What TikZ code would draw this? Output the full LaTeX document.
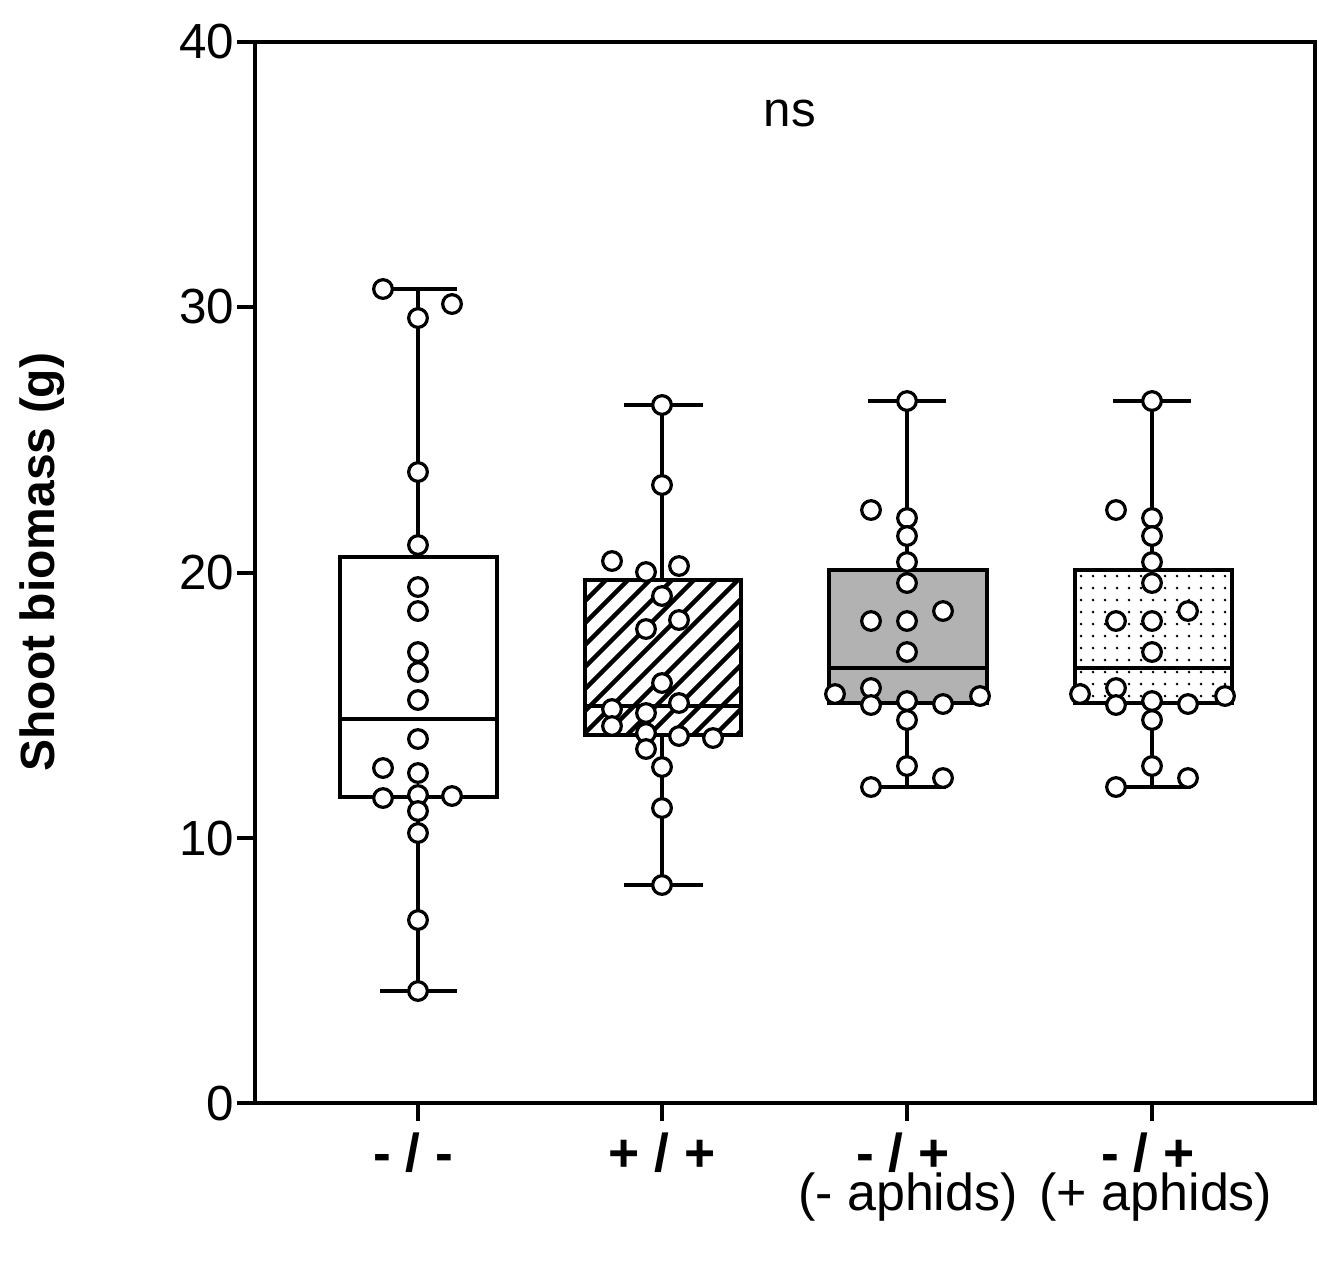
\documentclass[tikz,border=0pt]{standalone}
\usepackage{fontspec}
\setmainfont{Liberation Sans}
\begin{document}
\begin{tikzpicture}[x=0.75pt,y=-0.75pt,
  ln/.style={line width=2.9pt},
  pt/.style={circle,draw,line width=2.4pt,fill=white,minimum size=14pt,inner sep=0pt},
  lab/.style={font=\fontsize{37}{40}\selectfont},
  xlab/.style={font=\fontsize{39}{42}\selectfont,inner sep=0pt},
  blab/.style={font=\fontsize{40}{42}\selectfont\bfseries,inner sep=0pt}]
\useasboundingbox (0,0) rectangle (1319,1265);
% axes frame
\draw[ln] (255,42) rectangle (1315,1103);
\foreach \v/\y in {0/1103,10/838,20/573,30/307,40/42}{
  \draw[ln] (237,\y) -- (255,\y);
  \node[lab,anchor=east,inner sep=1pt] (y\v) at (236,\y) {\v};
}
\foreach \x in {418,662,907,1152} \draw[ln] (\x,1103) -- (\x,1121);
\node[blab] (g1) at (413,1153) {- / -};
\node[blab] (g2) at (662,1153) {+ / +};
\node[blab] (g3) at (903,1153) {- / +};
\node[blab] (g4) at (1148,1153) {- / +};
\node[xlab] (a3) at (908,1197) {(- aphids)};
\node[xlab] (a4) at (1156,1197) {(+ aphids)};
\node[font=\fontsize{36}{40}\selectfont\bfseries,rotate=90] (ylab) at (42,562) {Shoot biomass (g)};
\node[lab] (ns) at (790,113) {ns};
% group 1
\draw[ln] (418,289) -- (418,991);
\draw[ln] (380,289) -- (457,289);
\draw[ln] (380,991) -- (457,991);
\draw[ln,fill=white] (340,557) rectangle (497,797);
\draw[ln] (340,719) -- (497,719);
% group 2
\draw[ln] (662,405) -- (662,885);
\draw[ln] (624,405) -- (703,405);
\draw[ln] (624,885) -- (703,885);
\fill[white] (585,580) rectangle (741,735);
\begin{scope}
\clip (585,580) rectangle (741,735);
\foreach \k in {-200,-178,...,200} \draw[line width=3.4pt] (585+\k,735) -- (741+\k,579);
\end{scope}
\draw[ln] (585,580) rectangle (741,735);
\draw[ln] (585,706) -- (741,706);
% group 3
\draw[ln] (907,401) -- (907,787);
\draw[ln] (868,401) -- (946,401);
\draw[ln] (868,787) -- (946,787);
\draw[ln,fill=black!30] (829,570) rectangle (987,703);
\draw[ln] (829,668) -- (987,668);
% group 4
\draw[ln] (1152,401) -- (1152,787);
\draw[ln] (1113,401) -- (1191,401);
\draw[ln] (1113,787) -- (1191,787);
\fill[white] (1075,570) rectangle (1232,703);
\foreach \i in {1081,1093,...,1229} \foreach \j in {576,588,...,700} \fill (\i,\j) circle (1.1pt);
\draw[ln] (1075,570) rectangle (1232,703);
\draw[ln] (1075,668) -- (1232,668);
% points
\foreach \x/\y [count=\n] in {383/289,418/318,452/304,418/472,418/545,418/587,418/611,418/652,418/672,418/700,418/739,383/768,418/773,383/798,418/795,452/796,418/811,418/833,418/920,418/991}
  \node[pt] (p1\n) at (\x,\y) {};
\foreach \x/\y [count=\n] in {662/405,662/485,612/561,646/572,679/566,662/596,646/629,679/620,662/683,679/703,612/709,646/713,612/726,646/733,679/736,713/738,646/749,662/767,662/808,662/885}
  \node[pt] (p2\n) at (\x,\y) {};
\foreach \dx in {0,245}{
\foreach \x/\y [count=\n] in {907/401,871/510,907/518,907/536,907/562,907/583,871/621,907/621,943/611,907/652,835/694,871/688,871/705,907/701,943/704,980/696,907/720,907/766,943/778,871/787}
  \node[pt] (p3\dx-\n) at (\x+\dx,\y) {};
}
\end{tikzpicture}
\end{document}
